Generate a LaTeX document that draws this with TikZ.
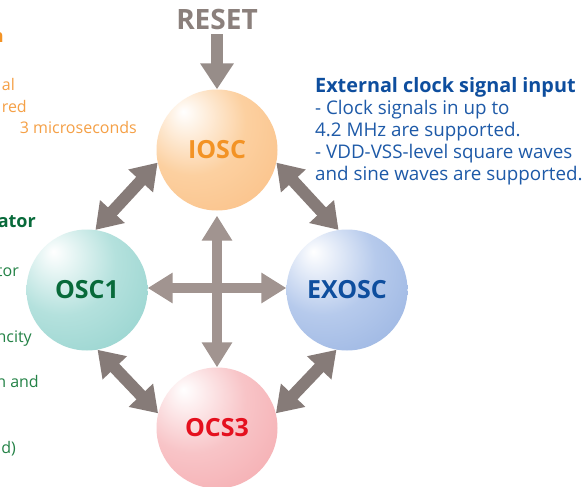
\documentclass[tikz,border=0pt]{standalone}
\usepackage{fontspec}
\setmainfont{Open Sans}
\usetikzlibrary{arrows.meta}
\definecolor{ioscE}{RGB}{249,184,122}
\definecolor{ioscM}{RGB}{252,208,160}
\definecolor{osc1E}{RGB}{132,203,198}
\definecolor{osc1M}{RGB}{180,225,221}
\definecolor{exoE}{RGB}{138,168,220}
\definecolor{exoM}{RGB}{182,202,236}
\definecolor{ocsE}{RGB}{243,158,163}
\definecolor{ocsM}{RGB}{248,196,199}
\definecolor{diagc}{RGB}{134,123,120}
\definecolor{crossc}{RGB}{161,148,144}
\definecolor{resetc}{RGB}{139,128,124}
\definecolor{orangeT}{RGB}{243,147,37}
\definecolor{orangeL}{RGB}{245,160,70}
\definecolor{greenT}{RGB}{8,106,58}
\definecolor{greenL}{RGB}{35,130,70}
\definecolor{blueT}{RGB}{14,78,158}
\definecolor{blueL}{RGB}{30,90,168}
\definecolor{redT}{RGB}{229,16,30}
\pgfdeclareradialshading{ioscshade}{\pgfpoint{-14bp}{16bp}}{color(0bp)=(white); color(22bp)=(ioscM); color(55bp)=(ioscE); color(80bp)=(ioscE)}
\pgfdeclareradialshading{osc1shade}{\pgfpoint{-14bp}{16bp}}{color(0bp)=(white); color(22bp)=(osc1M); color(55bp)=(osc1E); color(80bp)=(osc1E)}
\pgfdeclareradialshading{exoshade}{\pgfpoint{-14bp}{16bp}}{color(0bp)=(white); color(22bp)=(exoM); color(55bp)=(exoE); color(80bp)=(exoE)}
\pgfdeclareradialshading{ocsshade}{\pgfpoint{-14bp}{16bp}}{color(0bp)=(white); color(22bp)=(ocsM); color(55bp)=(ocsE); color(80bp)=(ocsE)}
\tikzset{
  ball/.style={circle, minimum size=121pt, inner sep=0pt, shading=#1, font=\fontsize{25}{25}\selectfont\bfseries},
  diagarrow/.style={draw=diagc, line width=12pt,
    {Triangle[width=32pt,length=25pt]}-{Triangle[width=32pt,length=25pt]}},
  crossarrow/.style={draw=crossc, line width=10pt,
    {Triangle[width=29pt,length=25pt]}-{Triangle[width=29pt,length=25pt]}},
  resetarrow/.style={draw=resetc!90!white, line width=12pt,
    -{Triangle[width=32pt,length=26pt]}},
  lefttxt/.style={inner sep=0pt, font=\fontsize{16}{18}\selectfont},
  lefttitle/.style={inner sep=0pt, font=\fontsize{18}{20}\selectfont\bfseries},
  bodytxt/.style={inner sep=0pt, font=\fontsize{18.8}{20}\selectfont},
  titletxt/.style={inner sep=0pt, font=\fontsize{19.8}{22}\selectfont\bfseries},
}
\begin{document}
\begin{tikzpicture}[x=1pt,y=-1pt]
\useasboundingbox (0,0) rectangle (582,487);
\fill[white] (0,0) rectangle (582,487);
\clip (0,0) rectangle (582,487);

% left partial texts (orange)
\node[lefttitle, text=orangeT, anchor=base east] (lo1) at (4,43) {n};
\node[lefttxt, text=orangeL, anchor=base east] (lo2) at (15,91) {al};
\node[lefttxt, text=orangeL, anchor=base east] (lo3) at (27,113) {red};
\node[lefttxt, text=orangeL, anchor=base east] (lo4) at (137,134) {3 microseconds};
% left partial texts (green)
\node[lefttitle, text=greenT, anchor=base east] (lg1) at (36,227) {ator};
\node[lefttxt, text=greenL, anchor=base east] (lg2) at (19,276) {tor};
\node[lefttxt, text=greenL, anchor=base east] (lg3) at (32,342) {ncity};
\node[lefttxt, text=greenL, anchor=base east] (lg4) at (39,387) {n and};
\node[lefttxt, text=greenL, anchor=base east] (lg5) at (16,453) {d)};

% right text (blue)
\node[titletxt, text=blueT, anchor=base west] (r1) at (315,93) {External clock signal input};
\node[bodytxt, text=blueL, anchor=base west] (r2) at (315,115) {- Clock signals in up to};
\node[bodytxt, text=blueL, anchor=base west] (r3) at (315,137) {4.2 MHz are supported.};
\node[bodytxt, text=blueL, anchor=base west] (r4) at (315,159) {- VDD-VSS-level square waves};
\node[bodytxt, text=blueL, anchor=base west] (r5) at (315,181) {and sine waves are supported.};

% RESET
\node[inner sep=0pt, text=resetc, font=\fontsize{28}{28}\selectfont\bfseries] (reset) at (217,20) {RESET};

% balls
\node[ball=ioscshade, text=orangeT] (iosc) at (217,150) {IOSC};
\node[ball=osc1shade, text=greenT] (osc1) at (87,290) {OSC1};
\node[ball=exoshade, text=blueT] (exosc) at (347,290) {EXOSC};
\node[ball=ocsshade, text=redT] (ocs3) at (217,428) {OCS3};

% arrows
\draw[resetarrow] ([yshift=-4pt]reset.south) -- (iosc.north);
\draw[crossarrow] ([yshift=2pt]osc1.east) -- ([yshift=2pt]exosc.west);
\draw[crossarrow] ([yshift=-5pt]iosc.south) -- (ocs3.north);
\draw[diagarrow] (osc1.82) -- (iosc.192);
\draw[diagarrow] (iosc.348) -- (exosc.98);
\draw[diagarrow] (osc1.280) -- (ocs3.166);
\draw[diagarrow] (exosc.260) -- (ocs3.14);
\end{tikzpicture}
\end{document}
